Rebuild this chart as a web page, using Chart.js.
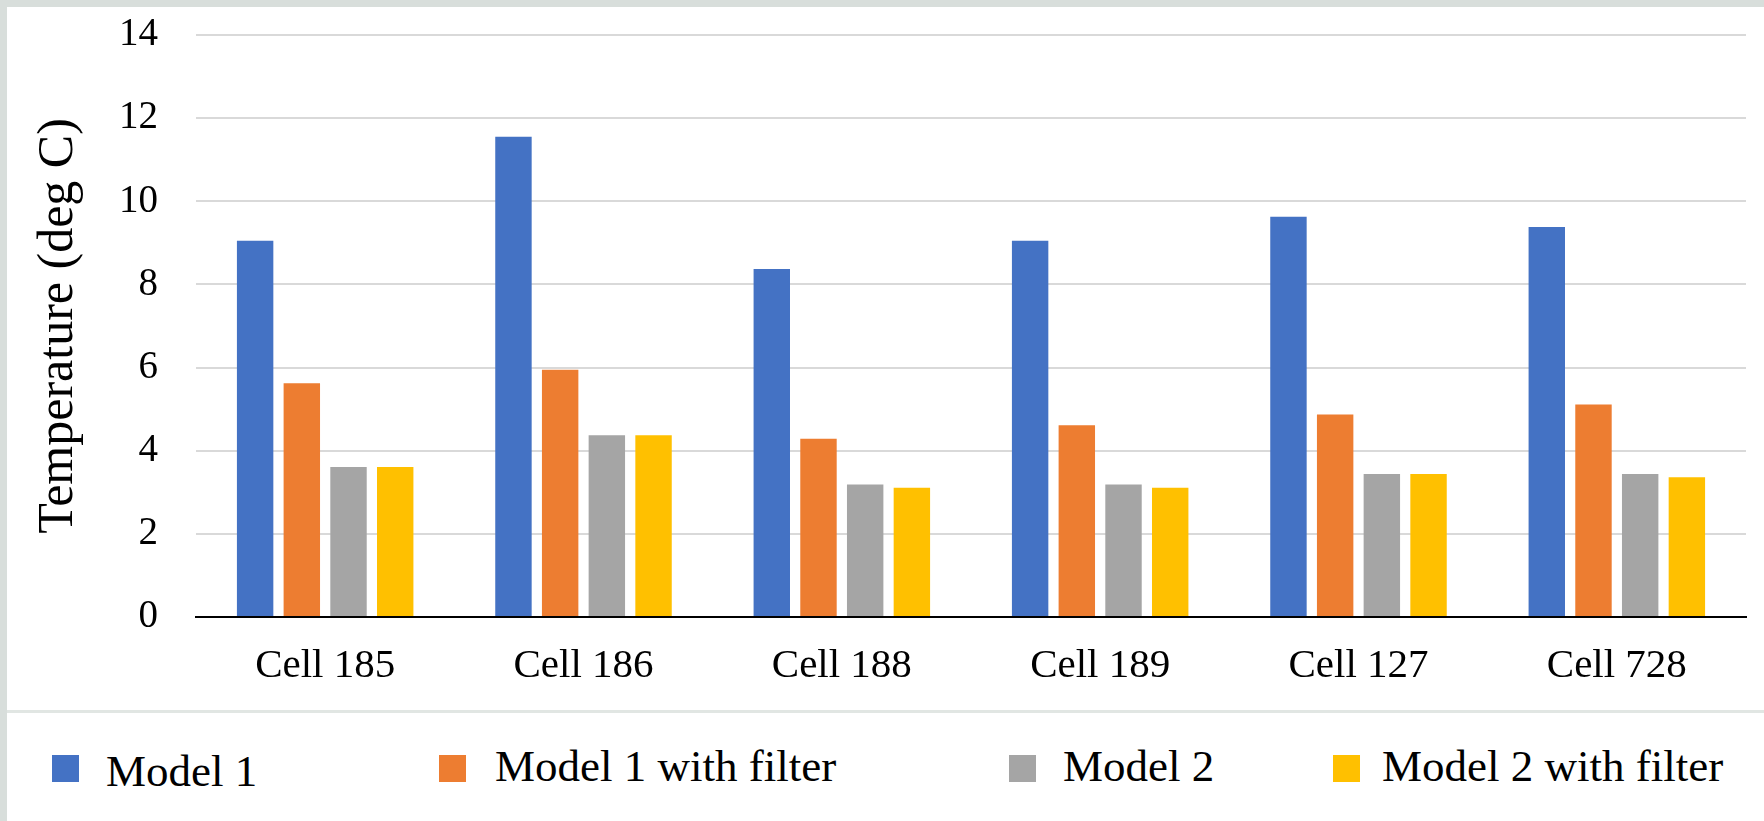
<!DOCTYPE html>
<html>
<head>
<meta charset="utf-8">
<script src="https://cdn.jsdelivr.net/npm/chart.js@4/dist/chart.umd.min.js"></script>
<style>
  html, body { margin: 0; padding: 0; }
  body {
    width: 1764px; height: 821px; position: relative; overflow: hidden;
    background: #d8dedb;
    font-family: "Liberation Serif", "Times New Roman", serif;
  }
  #panel { position: absolute; left: 7px; top: 7px; right: 0; bottom: 0; background: #ffffff; }
  #rule { position: absolute; left: 7px; right: 0; top: 710px; height: 3px; background: #e1e6e3; }
  #chart { position: absolute; left: 0; top: 0; }
  .swatch { position: absolute; width: 27px; height: 27px; }
  .name { position: absolute; font-size: 45px; line-height: 45px; color: #000; white-space: nowrap; }
</style>
</head>
<body>
<div id="panel"></div>
<div id="rule"></div>
<canvas id="chart" width="1764" height="711"></canvas>
<div id="legend"></div>
<script>
// Categories and per-series temperatures (deg C)
const categories = ['Cell 185', 'Cell 186', 'Cell 188', 'Cell 189', 'Cell 127', 'Cell 728'];
const model1 = [9.05, 11.55, 8.37, 9.05, 9.63, 9.38];
const model1Filter = [5.62, 5.95, 4.29, 4.61, 4.87, 5.11];
const model2 = [3.61, 4.37, 3.19, 3.19, 3.44, 3.44];
const model2Filter = [3.61, 4.37, 3.11, 3.11, 3.44, 3.36];
const yTicks = [0, 2, 4, 6, 8, 10, 12, 14];

const seriesNames = ['Model 1', 'Model 1 with filter', 'Model 2', 'Model 2 with filter'];
const seriesData = [model1, model1Filter, model2, model2Filter];
const seriesColors = ['#4472c4', '#ed7d31', '#a5a5a5', '#ffc000'];

const serif = '"Liberation Serif", "Times New Roman", serif';

const chart = new Chart(document.getElementById('chart'), {
  type: 'bar',
  data: {
    labels: categories,
    datasets: seriesNames.map((name, i) => ({
      label: name,
      data: seriesData[i],
      backgroundColor: seriesColors[i],
      borderWidth: 0,
      categoryPercentage: 0.723,
      barPercentage: 0.78
    }))
  },
  options: {
    responsive: false,
    animation: false,
    devicePixelRatio: 1,
    layout: { padding: { top: 35, right: 18, left: 0, bottom: 0 } },
    plugins: {
      legend: { display: false },
      tooltip: { enabled: false }
    },
    scales: {
      x: {
        grid: { display: false, drawTicks: false },
        border: { display: true, color: '#000000', width: 2 },
        ticks: { color: '#000', font: { family: serif, size: 41 }, padding: 25, maxRotation: 0 },
        afterFit: (s) => { s.height = 94; s.paddingLeft = 0; s.paddingRight = 0; }
      },
      y: {
        min: 0,
        max: 14,
        afterBuildTicks: (s) => { s.ticks = yTicks.map(v => ({ value: v })); },
        grid: {
          color: (c) => (c.tick && c.tick.value === 0 ? 'rgba(0,0,0,0)' : '#d9d9d9'),
          lineWidth: 2,
          drawTicks: false
        },
        border: { display: false },
        ticks: { color: '#000', font: { family: serif, size: 39 }, padding: 38 },
        title: {
          display: true,
          text: 'Temperature (deg C)',
          color: '#000',
          font: { family: serif, size: 50 },
          padding: { top: 29, bottom: 0 }
        },
        afterFit: (s) => { s.width = 196; s.paddingTop = 0; s.paddingBottom = 0; }
      }
    }
  }
});

// Legend row below the plot
const legendPos = [
  { box: 52, text: 106, textTop: 749 },
  { box: 439, text: 495, textTop: 744 },
  { box: 1009, text: 1063, textTop: 744 },
  { box: 1333, text: 1382, textTop: 744 }
];
const legend = document.getElementById('legend');
chart.data.datasets.forEach((ds, i) => {
  const sw = document.createElement('div');
  sw.className = 'swatch';
  sw.style.left = legendPos[i].box + 'px';
  sw.style.top = '755px';
  sw.style.background = ds.backgroundColor;
  legend.appendChild(sw);
  const tx = document.createElement('div');
  tx.className = 'name';
  tx.style.left = legendPos[i].text + 'px';
  tx.style.top = legendPos[i].textTop + 'px';
  tx.textContent = ds.label;
  legend.appendChild(tx);
});
</script>
</body>
</html>
